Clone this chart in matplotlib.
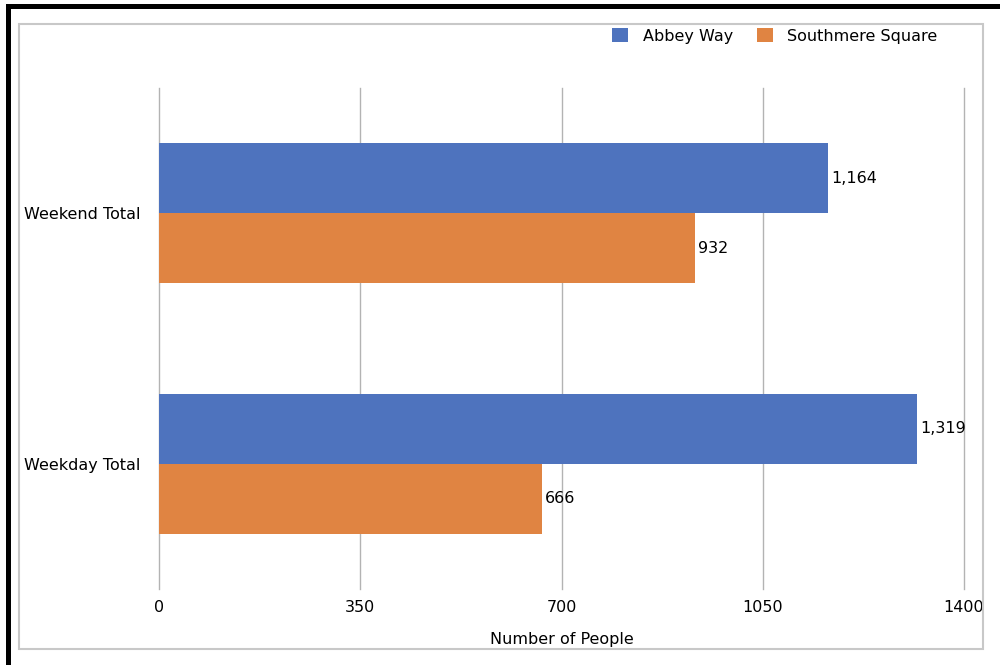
import matplotlib.pyplot as plt
from matplotlib.patches import Rectangle
import numpy as np

# dane
categories = ["Weekday Total", "Weekend Total"]
series_names = ["Abbey Way", "Southmere Square"]
abbey_way = [1319, 1164]
southmere_square = [666, 932]
x_ticks = [0, 350, 700, 1050, 1400]

colors = {"Abbey Way": "#4E73BE", "Southmere Square": "#E08442"}

plt.rcParams['font.family'] = ['DejaVu Sans']
fs = 11.5

fig = plt.figure(figsize=(10, 6.65), dpi=100)
ax = fig.add_axes([0.159, 0.1143, 0.805, 0.7534])

y = np.arange(len(categories))
bar_h = 0.28

bars_a = ax.barh(y + bar_h / 2, abbey_way, bar_h, color=colors["Abbey Way"], label="Abbey Way", zorder=3)
bars_s = ax.barh(y - bar_h / 2, southmere_square, bar_h, color=colors["Southmere Square"], label="Southmere Square", zorder=3)

for bars in (bars_a, bars_s):
    ax.bar_label(bars, labels=[f"{int(v):,}" for v in bars.datavalues], padding=2, fontsize=fs, color="black")

ax.set_xlim(0, 1400)
ax.set_ylim(-0.5, 1.5)
ax.set_xticks(x_ticks)
ax.set_xticklabels([str(t) for t in x_ticks], fontsize=fs)
ax.set_yticks(y)
ax.set_yticklabels(categories, fontsize=fs)
ax.tick_params(axis='both', length=0)
ax.tick_params(axis='x', pad=8)
ax.tick_params(axis='y', pad=13.5)
ax.set_xlabel("Number of People", fontsize=fs, labelpad=12)

ax.grid(True, axis='x', color='#b3b3b3', linewidth=1.0)
ax.set_axisbelow(True)
for gl in ax.get_xgridlines():
    gl.set_clip_on(False)
for s in ax.spines.values():
    s.set_visible(False)

fig.legend(loc='center right', bbox_to_anchor=(0.952, 0.946), ncol=2, frameon=False,
           fontsize=fs, handlelength=1.0, handleheight=1.0, columnspacing=1.5, handletextpad=0.9)

# ramki
fig.patches.append(Rectangle((19 / 1000, 1 - 649 / 665), 964 / 1000, 625 / 665, transform=fig.transFigure,
                             fill=False, edgecolor='#c8c8c8', linewidth=1.5))
fig.patches.append(Rectangle((0.006, 1 - 9 / 665), 0.994, 5 / 665, transform=fig.transFigure,
                             facecolor='black', edgecolor='none'))
fig.patches.append(Rectangle((0.006, 0), 0.005, 1 - 4 / 665, transform=fig.transFigure,
                             facecolor='black', edgecolor='none'))

fig.savefig("out.png", dpi=100)
